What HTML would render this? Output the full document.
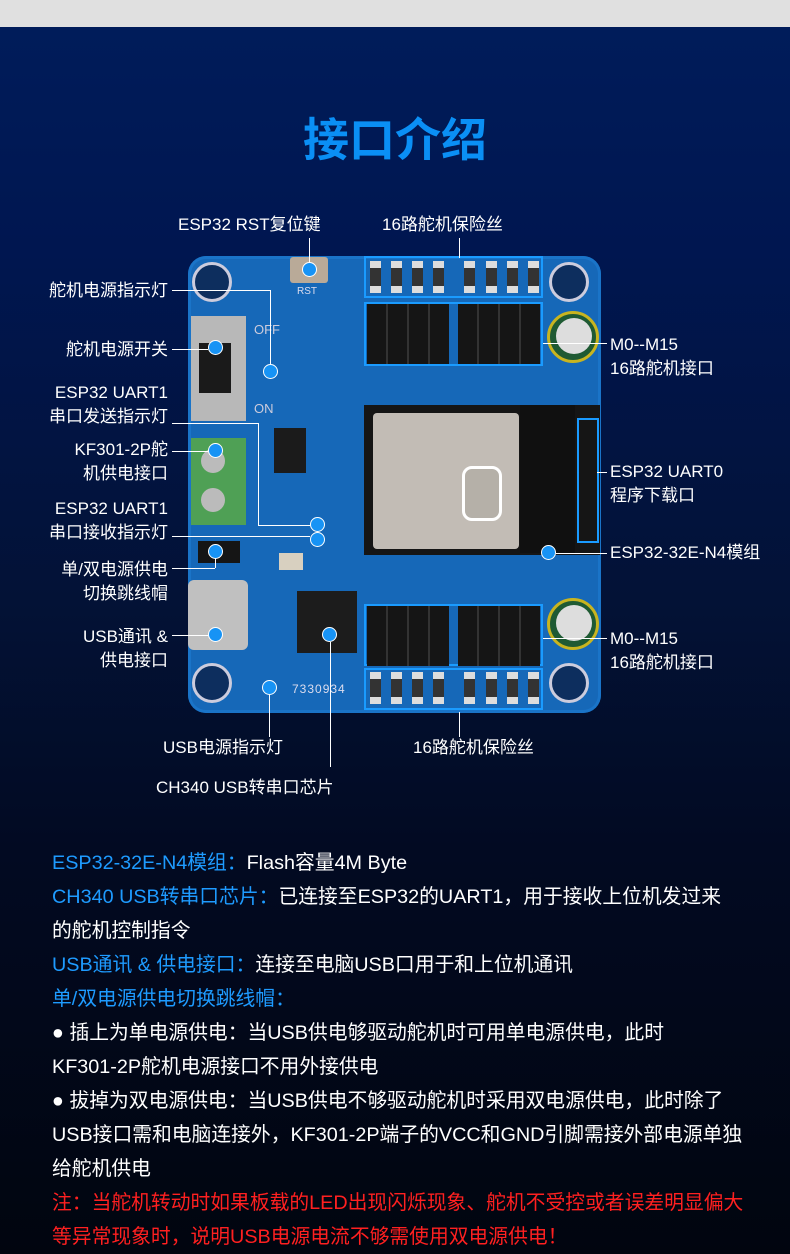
<!DOCTYPE html>
<html><head><meta charset="utf-8">
<style>
*{margin:0;padding:0;box-sizing:border-box}
body{width:790px;height:1254px;overflow:hidden;position:relative;font-family:"Liberation Sans","Noto Sans CJK SC",sans-serif;
background:linear-gradient(180deg,#e0e0e0 0,#e0e0e0 27px,#001c5a 27px,#001650 250px,#031236 600px,#020a22 850px,#01050f 1254px);color:#fff}
.a{position:absolute}
.t{position:absolute;font-size:17px;line-height:24px;color:#fff;white-space:nowrap}
.r{text-align:right}
.l{position:absolute;background:#fff}
.d{position:absolute;width:15px;height:15px;border-radius:50%;background:#1793f5;border:1px solid #fff}
.bx{position:absolute;border:2px solid #1a9bff}
.fu{position:absolute;width:11px;height:32px;background:#333;border-top:7px solid #ddd;border-bottom:7px solid #ddd}
.hd{position:absolute;width:82px;height:60px;background:#151515;background-image:repeating-linear-gradient(90deg,#151515 0 19px,#333 19px 21px)}
.hole{position:absolute;width:40px;height:40px;border-radius:50%;border:3px solid #ccd;background:#0d2e5e}
.bt{position:absolute;font-size:19.8px;line-height:34px;white-space:nowrap;left:52px}
.b{color:#1e9bff}
.red{color:#ff2020}
</style></head><body>
<div class="a" style="left:0;top:112px;width:790px;text-align:center;font-size:46px;font-weight:bold;color:#0a8ff5;line-height:56px">接口介绍</div>

<div class="a" style="left:188px;top:256px;width:413px;height:457px;border-radius:18px;background:#1668b8;box-shadow:inset 0 0 0 3px #1a74c8"></div>
<div class="hole" style="left:192px;top:262px"></div>
<div class="hole" style="left:549px;top:262px"></div>
<div class="hole" style="left:192px;top:663px"></div>
<div class="hole" style="left:549px;top:663px"></div>
<div class="a" style="left:290px;top:257px;width:38px;height:26px;background:#b9aa98;border-radius:3px"></div>
<div class="a" style="left:297px;top:286px;font-size:10px;color:#dde">RST</div>
<div class="bx" style="left:364px;top:256px;width:179px;height:42px"></div>
<div class="bx" style="left:364px;top:302px;width:179px;height:64px"></div>
<div class="fu" style="left:370px;top:261px"></div><div class="fu" style="left:391px;top:261px"></div><div class="fu" style="left:412px;top:261px"></div><div class="fu" style="left:433px;top:261px"></div>
<div class="fu" style="left:464px;top:261px"></div><div class="fu" style="left:486px;top:261px"></div><div class="fu" style="left:507px;top:261px"></div><div class="fu" style="left:528px;top:261px"></div>
<div class="hd" style="left:367px;top:304px"></div><div class="hd" style="left:458px;top:304px"></div>
<div class="bx" style="left:364px;top:604px;width:179px;height:62px"></div>
<div class="bx" style="left:364px;top:668px;width:179px;height:42px"></div>
<div class="hd" style="left:367px;top:606px"></div><div class="hd" style="left:458px;top:606px"></div>
<div class="fu" style="left:370px;top:672px"></div><div class="fu" style="left:391px;top:672px"></div><div class="fu" style="left:412px;top:672px"></div><div class="fu" style="left:433px;top:672px"></div>
<div class="fu" style="left:464px;top:672px"></div><div class="fu" style="left:486px;top:672px"></div><div class="fu" style="left:507px;top:672px"></div><div class="fu" style="left:528px;top:672px"></div>
<div class="a" style="left:547px;top:311px;width:52px;height:52px;border-radius:50%;background:#1f5a33;border:3px solid #c8b420"></div>
<div class="a" style="left:556px;top:318px;width:36px;height:36px;border-radius:50%;background:#ddd"></div>
<div class="a" style="left:547px;top:598px;width:52px;height:52px;border-radius:50%;background:#1f5a33;border:3px solid #c8b420"></div>
<div class="a" style="left:556px;top:605px;width:36px;height:36px;border-radius:50%;background:#ddd"></div>
<div class="a" style="left:191px;top:316px;width:55px;height:105px;background:#b8b8b8"></div>
<div class="a" style="left:199px;top:343px;width:32px;height:50px;background:#1a1a1a"></div>
<div class="a" style="left:254px;top:322px;font-size:13px;color:#ccd">OFF</div>
<div class="a" style="left:254px;top:401px;font-size:13px;color:#ccd">ON</div>
<div class="a" style="left:191px;top:438px;width:55px;height:87px;background:#4fa055"></div>
<div class="a" style="left:201px;top:449px;width:24px;height:24px;border-radius:50%;background:#bbb"></div>
<div class="a" style="left:201px;top:488px;width:24px;height:24px;border-radius:50%;background:#bbb"></div>
<div class="a" style="left:188px;top:580px;width:60px;height:70px;background:#c0c0c0;border-radius:6px"></div>
<div class="a" style="left:198px;top:541px;width:42px;height:22px;background:#151515"></div>
<div class="a" style="left:274px;top:428px;width:32px;height:45px;background:#1b1b1b"></div>
<div class="a" style="left:364px;top:405px;width:236px;height:150px;background:#151515"></div>
<div class="a" style="left:373px;top:413px;width:146px;height:136px;background:#c2bcb5;border-radius:4px"></div>
<div class="a" style="left:520px;top:405px;width:55px;height:148px;background:#101010"></div>
<div class="a" style="left:462px;top:466px;width:40px;height:55px;border-radius:10px;border:3px solid #fff;background:#b5b0a8"></div>
<div class="bx" style="left:577px;top:418px;width:22px;height:125px"></div>
<div class="a" style="left:297px;top:591px;width:60px;height:62px;background:#1c1c1c"></div>
<div class="a" style="left:279px;top:553px;width:24px;height:17px;background:#d8d0c0"></div>
<div class="a" style="left:292px;top:682px;font-size:12px;color:#dde;letter-spacing:1px">7330934</div>

<div class="d" style="left:302px;top:262px"></div>
<div class="d" style="left:208px;top:340px"></div>
<div class="d" style="left:263px;top:364px"></div>
<div class="d" style="left:208px;top:443px"></div>
<div class="d" style="left:310px;top:517px"></div>
<div class="d" style="left:310px;top:532px"></div>
<div class="d" style="left:208px;top:544px"></div>
<div class="d" style="left:208px;top:627px"></div>
<div class="d" style="left:322px;top:627px"></div>
<div class="d" style="left:262px;top:680px"></div>
<div class="d" style="left:541px;top:545px"></div>

<div class="l" style="left:309px;top:238px;width:1px;height:24px"></div>
<div class="l" style="left:459px;top:238px;width:1px;height:20px"></div>
<div class="l" style="left:172px;top:290px;width:98px;height:1px"></div>
<div class="l" style="left:270px;top:290px;width:1px;height:74px"></div>
<div class="l" style="left:172px;top:349px;width:36px;height:1px"></div>
<div class="l" style="left:172px;top:423px;width:86px;height:1px"></div>
<div class="l" style="left:258px;top:423px;width:1px;height:102px"></div>
<div class="l" style="left:258px;top:525px;width:52px;height:1px"></div>
<div class="l" style="left:172px;top:451px;width:36px;height:1px"></div>
<div class="l" style="left:172px;top:536px;width:138px;height:1px"></div>
<div class="l" style="left:172px;top:568px;width:43px;height:1px"></div>
<div class="l" style="left:215px;top:558px;width:1px;height:10px"></div>
<div class="l" style="left:172px;top:635px;width:36px;height:1px"></div>
<div class="l" style="left:269px;top:695px;width:1px;height:42px"></div>
<div class="l" style="left:330px;top:642px;width:1px;height:125px"></div>
<div class="l" style="left:459px;top:712px;width:1px;height:25px"></div>
<div class="l" style="left:543px;top:343px;width:64px;height:1px"></div>
<div class="l" style="left:597px;top:472px;width:10px;height:1px"></div>
<div class="l" style="left:556px;top:553px;width:51px;height:1px"></div>
<div class="l" style="left:543px;top:638px;width:64px;height:1px"></div>

<div class="t" style="left:178px;top:213px">ESP32 RST复位键</div>
<div class="t" style="left:382px;top:213px">16路舵机保险丝</div>
<div class="t r" style="right:622px;top:279px">舵机电源指示灯</div>
<div class="t r" style="right:622px;top:338px">舵机电源开关</div>
<div class="t r" style="right:622px;top:381px">ESP32 UART1<br>串口发送指示灯</div>
<div class="t r" style="right:622px;top:438px">KF301-2P舵<br>机供电接口</div>
<div class="t r" style="right:622px;top:497px">ESP32 UART1<br>串口接收指示灯</div>
<div class="t r" style="right:622px;top:558px">单/双电源供电<br>切换跳线帽</div>
<div class="t r" style="right:622px;top:625px">USB通讯 &amp;<br>供电接口</div>
<div class="t" style="left:610px;top:333px">M0--M15<br>16路舵机接口</div>
<div class="t" style="left:610px;top:460px">ESP32 UART0<br>程序下载口</div>
<div class="t" style="left:610px;top:541px">ESP32-32E-N4模组</div>
<div class="t" style="left:610px;top:627px">M0--M15<br>16路舵机接口</div>
<div class="t" style="left:163px;top:736px">USB电源指示灯</div>
<div class="t" style="left:413px;top:736px">16路舵机保险丝</div>
<div class="t" style="left:156px;top:776px">CH340 USB转串口芯片</div>

<div class="bt" style="top:846px"><span class="b">ESP32-32E-N4模组：</span>Flash容量4M Byte</div>
<div class="bt" style="top:880px"><span class="b">CH340 USB转串口芯片：</span>已连接至ESP32的UART1，用于接收上位机发过来</div>
<div class="bt" style="top:914px">的舵机控制指令</div>
<div class="bt" style="top:948px"><span class="b">USB通讯 &amp; 供电接口：</span>连接至电脑USB口用于和上位机通讯</div>
<div class="bt" style="top:982px"><span class="b">单/双电源供电切换跳线帽：</span></div>
<div class="bt" style="top:1016px">● 插上为单电源供电：当USB供电够驱动舵机时可用单电源供电，此时</div>
<div class="bt" style="top:1050px">KF301-2P舵机电源接口不用外接供电</div>
<div class="bt" style="top:1084px">● 拔掉为双电源供电：当USB供电不够驱动舵机时采用双电源供电，此时除了</div>
<div class="bt" style="top:1118px">USB接口需和电脑连接外，KF301-2P端子的VCC和GND引脚需接外部电源单独</div>
<div class="bt" style="top:1152px">给舵机供电</div>
<div class="bt red" style="top:1186px">注：当舵机转动时如果板载的LED出现闪烁现象、舵机不受控或者误差明显偏大</div>
<div class="bt red" style="top:1220px">等异常现象时，说明USB电源电流不够需使用双电源供电！</div>
</body></html>
